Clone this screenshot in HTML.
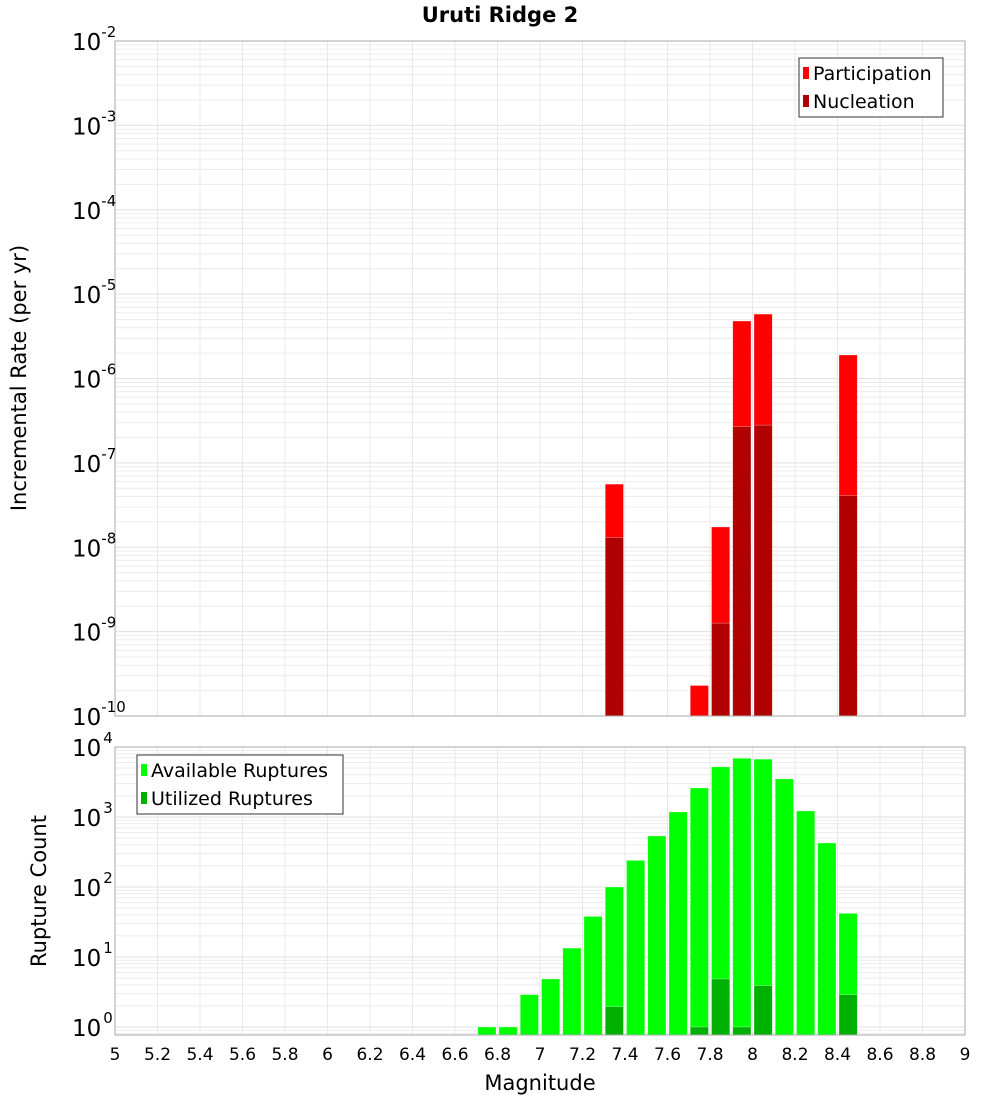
<!DOCTYPE html>
<html><head><meta charset="utf-8"><style>
body{margin:0;background:#fff;font-family:"DejaVu Sans","Liberation Sans",sans-serif}
svg text{font-family:"DejaVu Sans","Liberation Sans",sans-serif}
</style></head><body>
<svg id="c" width="1000" height="1100" xmlns="http://www.w3.org/2000/svg">
<text x="500" y="22" text-anchor="middle" font-size="21" font-weight="bold">Uruti Ridge 2</text>
<g id="topg"></g>
<g id="botg"></g>
<text transform="translate(26,378) rotate(-90)" text-anchor="middle" font-size="21">Incremental Rate (per yr)</text>
<text transform="translate(46,891) rotate(-90)" text-anchor="middle" font-size="21">Rupture Count</text>
<text x="540" y="1090" text-anchor="middle" font-size="21">Magnitude</text>
<g>
<rect x="799" y="58" width="144" height="59" fill="#fff" stroke="#333"/>
<rect x="803" y="67" width="6" height="12" fill="#ff0000"/>
<text x="813" y="80" font-size="19">Participation</text>
<rect x="803" y="95" width="6" height="12" fill="#b00000"/>
<text x="813" y="108" font-size="19">Nucleation</text>
</g>
<g>
<rect x="137" y="755" width="206" height="59" fill="#fff" stroke="#333"/>
<rect x="141" y="764" width="6" height="12" fill="#00ff00"/>
<text x="151" y="777" font-size="19">Available Ruptures</text>
<rect x="141" y="792" width="6" height="12" fill="#00b000"/>
<text x="151" y="805" font-size="19">Utilized Ruptures</text>
</g>
</svg>
<script>
const rateMags=[7.35,7.75,7.85,7.95,8.05,8.45];
const participation=[5.6e-8,2.3e-10,1.74e-8,4.8e-6,5.8e-6,1.9e-6];
const nucleation=[1.3e-8,0,1.26e-9,2.7e-7,2.8e-7,4.1e-8];
const countMags=[6.75,6.85,6.95,7.05,7.15,7.25,7.35,7.45,7.55,7.65,7.75,7.85,7.95,8.05,8.15,8.25,8.35,8.45];
const available=[1,1,2.9,4.85,13.4,38,100,240,535,1180,2600,5200,6900,6700,3500,1220,425,42];
const utilMags=[7.35,7.75,7.85,7.95,8.05,8.45];
const utilized=[1.95,1,4.85,1,3.9,2.9];
const xTicks=[5,5.2,5.4,5.6,5.8,6,6.2,6.4,6.6,6.8,7,7.2,7.4,7.6,7.8,8,8.2,8.4,8.6,8.8,9];
const topDecades=[-10,-9,-8,-7,-6,-5,-4,-3,-2];
const botDecades=[0,1,2,3,4];
const NS="http://www.w3.org/2000/svg";
const X0=115,X1=965;
const xs=m=>X0+(m-5)/4*(X1-X0);
const BW=(xs(5.1)-xs(5))-3;
const T0=41,T1=716,B0=747,B1=1035;
const ty=v=>T1-(Math.log10(v)+10)*(T1-T0)/8;
const by=v=>1027-Math.log10(v)*70;
function mk(p,tag,a){const e=document.createElementNS(NS,tag);for(const k in a)e.setAttribute(k,a[k]);p.appendChild(e);return e;}
function frame(g,y0,y1,yf,decs){
  mk(g,'rect',{x:X0,y:y0,width:X1-X0,height:y1-y0,fill:'#fff'});
  for(const d of decs){for(let k=1;k<10;k++){const v=k*Math.pow(10,d);const y=yf(v);if(y<y0||y>y1)continue;
    const l=mk(g,'line',{x1:X0,x2:X1,y1:y,y2:y,stroke:k==1?'#e0e0e0':'#ececec','stroke-width':1});
    
    }}
  for(const t of xTicks){const l=mk(g,'line',{x1:xs(t),x2:xs(t),y1:y0,y2:y1,stroke:'#e8e8e8'});
    
    }
}
function border(g,y0,y1){const r=mk(g,'rect',{x:X0,y:y0,width:X1-X0,height:y1-y0,fill:'none',stroke:'#aaa'});
  
  }
function bar(g,m,y,base,col,name){if(y>=base)return;const r=mk(g,'rect',{x:xs(m)-BW/2,y:y,width:BW,height:base-y,fill:col,stroke:'#fff','stroke-opacity':0.5,'stroke-width':0.6});
  
  }
const gTop=document.getElementById('topg'),gBot=document.getElementById('botg');
frame(gTop,T0,T1,ty,topDecades);
rateMags.forEach((m,i)=>bar(gTop,m,ty(participation[i]),T1,'#ff0000','participation-bar'));
rateMags.forEach((m,i)=>{if(nucleation[i]>0)bar(gTop,m,ty(nucleation[i]),T1,'#b00000','nucleation-bar');});
border(gTop,T0,T1);
topDecades.forEach(d=>{const y=ty(Math.pow(10,d));const t=mk(gTop,'text',{x:72,y:y+9,'font-size':23});
  
  
  t.textContent='10';const s=mk(t,'tspan',{dy:-13,'font-size':15});s.textContent=String(d);});
frame(gBot,B0,B1,by,[-1,0,1,2,3]);
countMags.forEach((m,i)=>bar(gBot,m,by(available[i]),B1,'#00ff00','available-bar'));
utilMags.forEach((m,i)=>bar(gBot,m,by(utilized[i]),B1,'#00b000','utilized-bar'));
border(gBot,B0,B1);
botDecades.forEach(d=>{const y=by(Math.pow(10,d));const t=mk(gBot,'text',{x:72,y:y+9,'font-size':23});
  
  
  t.textContent='10';const s=mk(t,'tspan',{dy:-13,dx:2,'font-size':15});s.textContent=String(d);});
xTicks.forEach(v=>{const t=mk(gBot,'text',{x:xs(v),y:1060,'text-anchor':'middle','font-size':17});
  
  
  t.textContent=String(v);});
</script>
</body></html>
